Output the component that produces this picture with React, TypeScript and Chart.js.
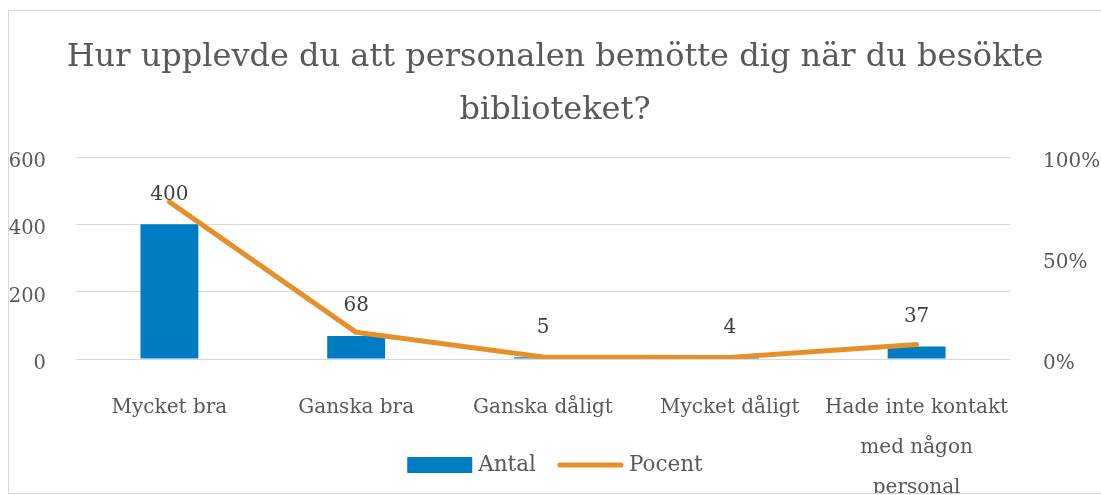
import React, { useEffect, useRef } from "react";
import { Chart, registerables } from "chart.js";

Chart.register(...registerables);

const categories: (string | string[])[] = [
  "Mycket bra",
  "Ganska bra",
  "Ganska dåligt",
  "Mycket dåligt",
  ["Hade inte kontakt", "med någon", "personal"],
];
const antal = [400, 68, 5, 4, 37];
const pocent = [77.8, 13.2, 1.0, 0.8, 7.2];
const leftTicks = [0, 200, 400, 600];
const rightTicks = [0, 50, 100];
const titleLines = [
  "Hur upplevde du att personalen bemötte dig när du besökte",
  "biblioteket?",
];

const FONT = "'DejaVu Serif', serif";
const BLUE = "#007CC3";
const ORANGE = "#E5912A";
const GREY = "#595959";
const GRID = "#D9D9D9";

const W = 1092;
const H = 482;
const AREA_LEFT = 67;
const AREA_RIGHT = 1001;
const AREA_BOTTOM = 348;

const TITLE_SIZE = 32;
const LABEL_SIZE = 20;
const LEFT_TICK_SIZE = 19.5;
const LEGEND_SIZE = 21.5;

const dataLabelPlugin = {
  id: "dataLabels",
  afterDatasetsDraw(chart: any) {
    const ctx = chart.ctx;
    const meta = chart.getDatasetMeta(0);
    ctx.save();
    ctx.font = `${LABEL_SIZE}px ${FONT}`;
    ctx.fillStyle = "#404040";
    ctx.textAlign = "center";
    ctx.textBaseline = "middle";
    meta.data.forEach((el: any, i: number) => {
      ctx.fillText(String(antal[i]), el.x, el.y - 30);
    });
    ctx.restore();
  },
};

const legendPlugin = {
  id: "customLegend",
  afterDraw(chart: any) {
    const ctx = chart.ctx;
    ctx.save();
    ctx.font = `${LEGEND_SIZE}px ${FONT}`;
    const t1 = "Antal";
    const t2 = "Pocent";
    const boxW = 65;
    const gap = 6;
    const itemGap = 22;
    const w1 = ctx.measureText(t1).width;
    const w2 = ctx.measureText(t2).width;
    const total = boxW + gap + w1 + itemGap + boxW + gap + w2;
    let x = chart.width / 2 - total / 2;
    const cy = 454;
    ctx.fillStyle = BLUE;
    ctx.fillRect(x, cy - 8, boxW, 16);
    x += boxW + gap;
    ctx.fillStyle = GREY;
    ctx.textBaseline = "middle";
    ctx.textAlign = "left";
    ctx.fillText(t1, x, cy);
    x += w1 + itemGap;
    ctx.strokeStyle = ORANGE;
    ctx.lineWidth = 5;
    ctx.lineCap = "round";
    ctx.beginPath();
    ctx.moveTo(x + 2, cy);
    ctx.lineTo(x + boxW - 2, cy);
    ctx.stroke();
    x += boxW + gap;
    ctx.fillText(t2, x, cy);
    ctx.restore();
  },
};

export default function App() {
  const ref = useRef<HTMLCanvasElement | null>(null);
  useEffect(() => {
    if (!ref.current) return;
    const chart = new Chart(ref.current, {
      type: "bar",
      data: {
        labels: categories as any,
        datasets: [
          {
            type: "bar",
            label: "Antal",
            data: antal,
            backgroundColor: BLUE,
            yAxisID: "y",
            categoryPercentage: 1,
            barPercentage: 0.31,
            order: 1,
          } as any,
          {
            type: "line",
            label: "Pocent",
            data: pocent,
            borderColor: ORANGE,
            backgroundColor: ORANGE,
            borderWidth: 5,
            pointRadius: 0,
            borderCapStyle: "round",
            borderJoinStyle: "round",
            tension: 0,
            yAxisID: "y1",
            order: 0,
          } as any,
        ],
      },
      options: {
        responsive: false,
        animation: false,
        layout: { padding: 0 },
        plugins: {
          legend: { display: false },
          tooltip: { enabled: false },
          title: {
            display: true,
            text: titleLines,
            color: GREY,
            font: { family: FONT, size: TITLE_SIZE, weight: "normal", lineHeight: 53 / TITLE_SIZE },
            padding: { top: 20, bottom: 20 },
          },
        },
        scales: {
          x: {
            grid: { display: false, drawTicks: false },
            border: { display: false },
            ticks: {
              color: GREY,
              font: { family: FONT, size: LABEL_SIZE, lineHeight: 40 / LABEL_SIZE },
              padding: 29,
              maxRotation: 0,
              autoSkip: false,
            },
            afterFit(scale: any) {
              scale.height = H - AREA_BOTTOM;
            },
          },
          y: {
            position: "left",
            min: 0,
            max: 600,
            afterBuildTicks(scale: any) {
              scale.ticks = leftTicks.map((v) => ({ value: v }));
            },
            grid: { color: GRID, lineWidth: 1, drawTicks: false },
            border: { display: false },
            ticks: {
              color: GREY,
              font: { family: FONT, size: LEFT_TICK_SIZE },
              padding: 30,
              labelOffset: 5,
            },
            afterFit(scale: any) {
              scale.width = AREA_LEFT;
            },
          },
          y1: {
            position: "right",
            min: 0,
            max: 100,
            afterBuildTicks(scale: any) {
              scale.ticks = rightTicks.map((v) => ({ value: v }));
            },
            grid: { display: false, drawTicks: false },
            border: { display: false },
            ticks: {
              color: GREY,
              font: { family: FONT, size: LABEL_SIZE },
              padding: 33,
              labelOffset: 5,
              callback: (v: any) => v + "%",
            },
            afterFit(scale: any) {
              scale.width = W - AREA_RIGHT;
            },
          },
        },
      },
      plugins: [dataLabelPlugin, legendPlugin],
    });
    return () => chart.destroy();
  }, []);

  return (
    <div
      style={{
        position: "absolute",
        left: 8,
        top: 10,
        borderLeft: `1px solid ${GRID}`,
        borderTop: `1px solid ${GRID}`,
        borderBottom: `1px solid ${GRID}`,
        width: W,
        height: H,
        overflow: "hidden",
      }}
    >
      <canvas ref={ref} width={W} height={H} style={{ width: W, height: H, display: "block" }} />
    </div>
  );
}
